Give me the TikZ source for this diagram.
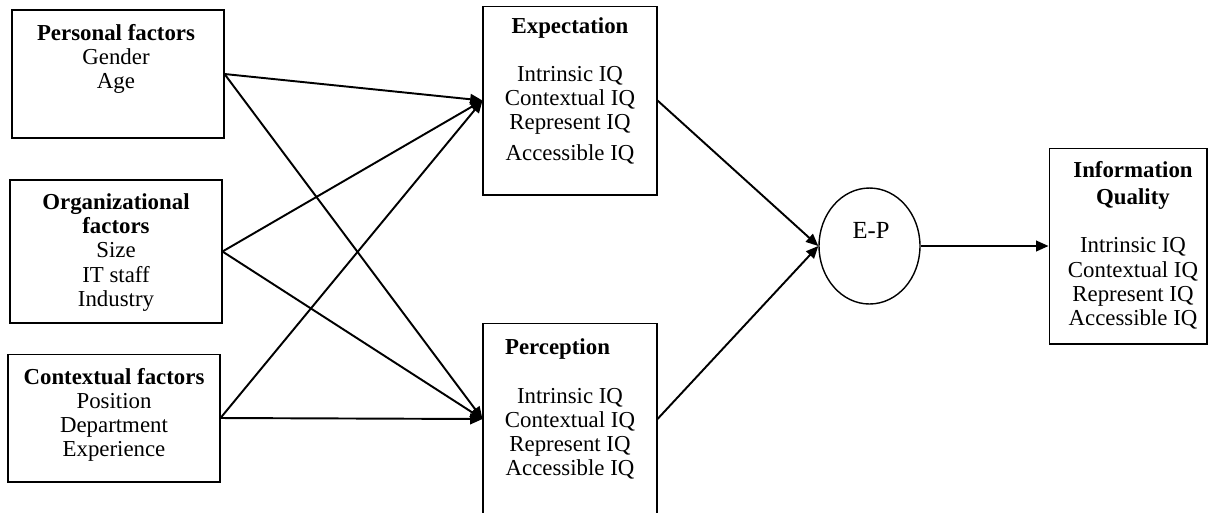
\documentclass[tikz,border=0pt]{standalone}
\usepackage{fontspec}
\setmainfont{Liberation Serif}
\usetikzlibrary{calc}
\usetikzlibrary{positioning}
\usetikzlibrary{arrows.meta,shapes.geometric}

\begin{document}
\begin{tikzpicture}[x=0.02cm, y=-0.02cm,
    frame/.style={draw, line width=0.6pt, rectangle, inner sep=0pt},
    lbl/.style={inner sep=0pt, align=center, font=\fontsize{13}{13.7}\selectfont},
    arr/.style={line width=1.1pt, -{Triangle[length=7pt, width=6pt]}}]
  \useasboundingbox (0,0) rectangle (1209,512);

  % factor boxes on the left
  \node [frame, minimum width=4.24cm, minimum height=2.56cm] (pers) at (118,74) {};
  \node [lbl] (pers-t) at (116,59) {\textbf{Personal factors}\\Gender\\Age};

  \node [frame, minimum width=4.24cm, minimum height=2.86cm] (org) at (116,251.5) {};
  \node [lbl] (org-t) at (116,252.5) {\textbf{Organizational}\\\textbf{factors}\\Size\\IT staff\\Industry};

  \node [frame, minimum width=4.24cm, minimum height=2.56cm] (ctx) at (114,418) {};
  \node [lbl] (ctx-t) at (114,415) {\textbf{Contextual factors}\\Position\\Department\\Experience};

  % expectation and perception
  \node [frame, minimum width=3.48cm, minimum height=3.78cm] (expc) at (570,100.5) {};
  \node [lbl] (expc-t) at (570,91) {\textbf{Expectation}\\[13.7pt]Intrinsic IQ\\Contextual IQ\\Represent IQ\\[4pt]Accessible IQ};

  \node [frame, minimum width=3.48cm, minimum height=3.84cm] (perc) at (570,419) {};
  \node [lbl] (perc-t) at (570,409) {\textbf{Perception}\hspace*{0.5cm}\\[13.7pt]Intrinsic IQ\\Contextual IQ\\Represent IQ\\Accessible IQ};

  % gap
  \node [ellipse, draw, line width=0.8pt, inner sep=0pt, minimum width=2.02cm, minimum height=2.32cm] (ep) at (869.5,246) {};
  \node [lbl, font=\fontsize{14}{15}\selectfont] (ep-t) at (871,230) {E-P};

  % result
  \node [frame, minimum width=3.16cm, minimum height=3.92cm] (info) at (1128,246) {};
  \node [lbl] (info-t) at (1133,245) {\textbf{Information}\\[2pt]\textbf{Quality}\\[13.7pt]Intrinsic IQ\\Contextual IQ\\Represent IQ\\Accessible IQ};

  \foreach \src in {pers, org, ctx} {
    \draw [arr] (\src.east) -- (expc.west);
    \draw [arr] (\src.east) -- (perc.west);
  }
  \draw [arr] (expc.east) -- (ep.west);
  \draw [arr] (perc.east) -- (ep.west);
  \draw [arr] (ep.east) -- (info.west);
\end{tikzpicture}
\end{document}
